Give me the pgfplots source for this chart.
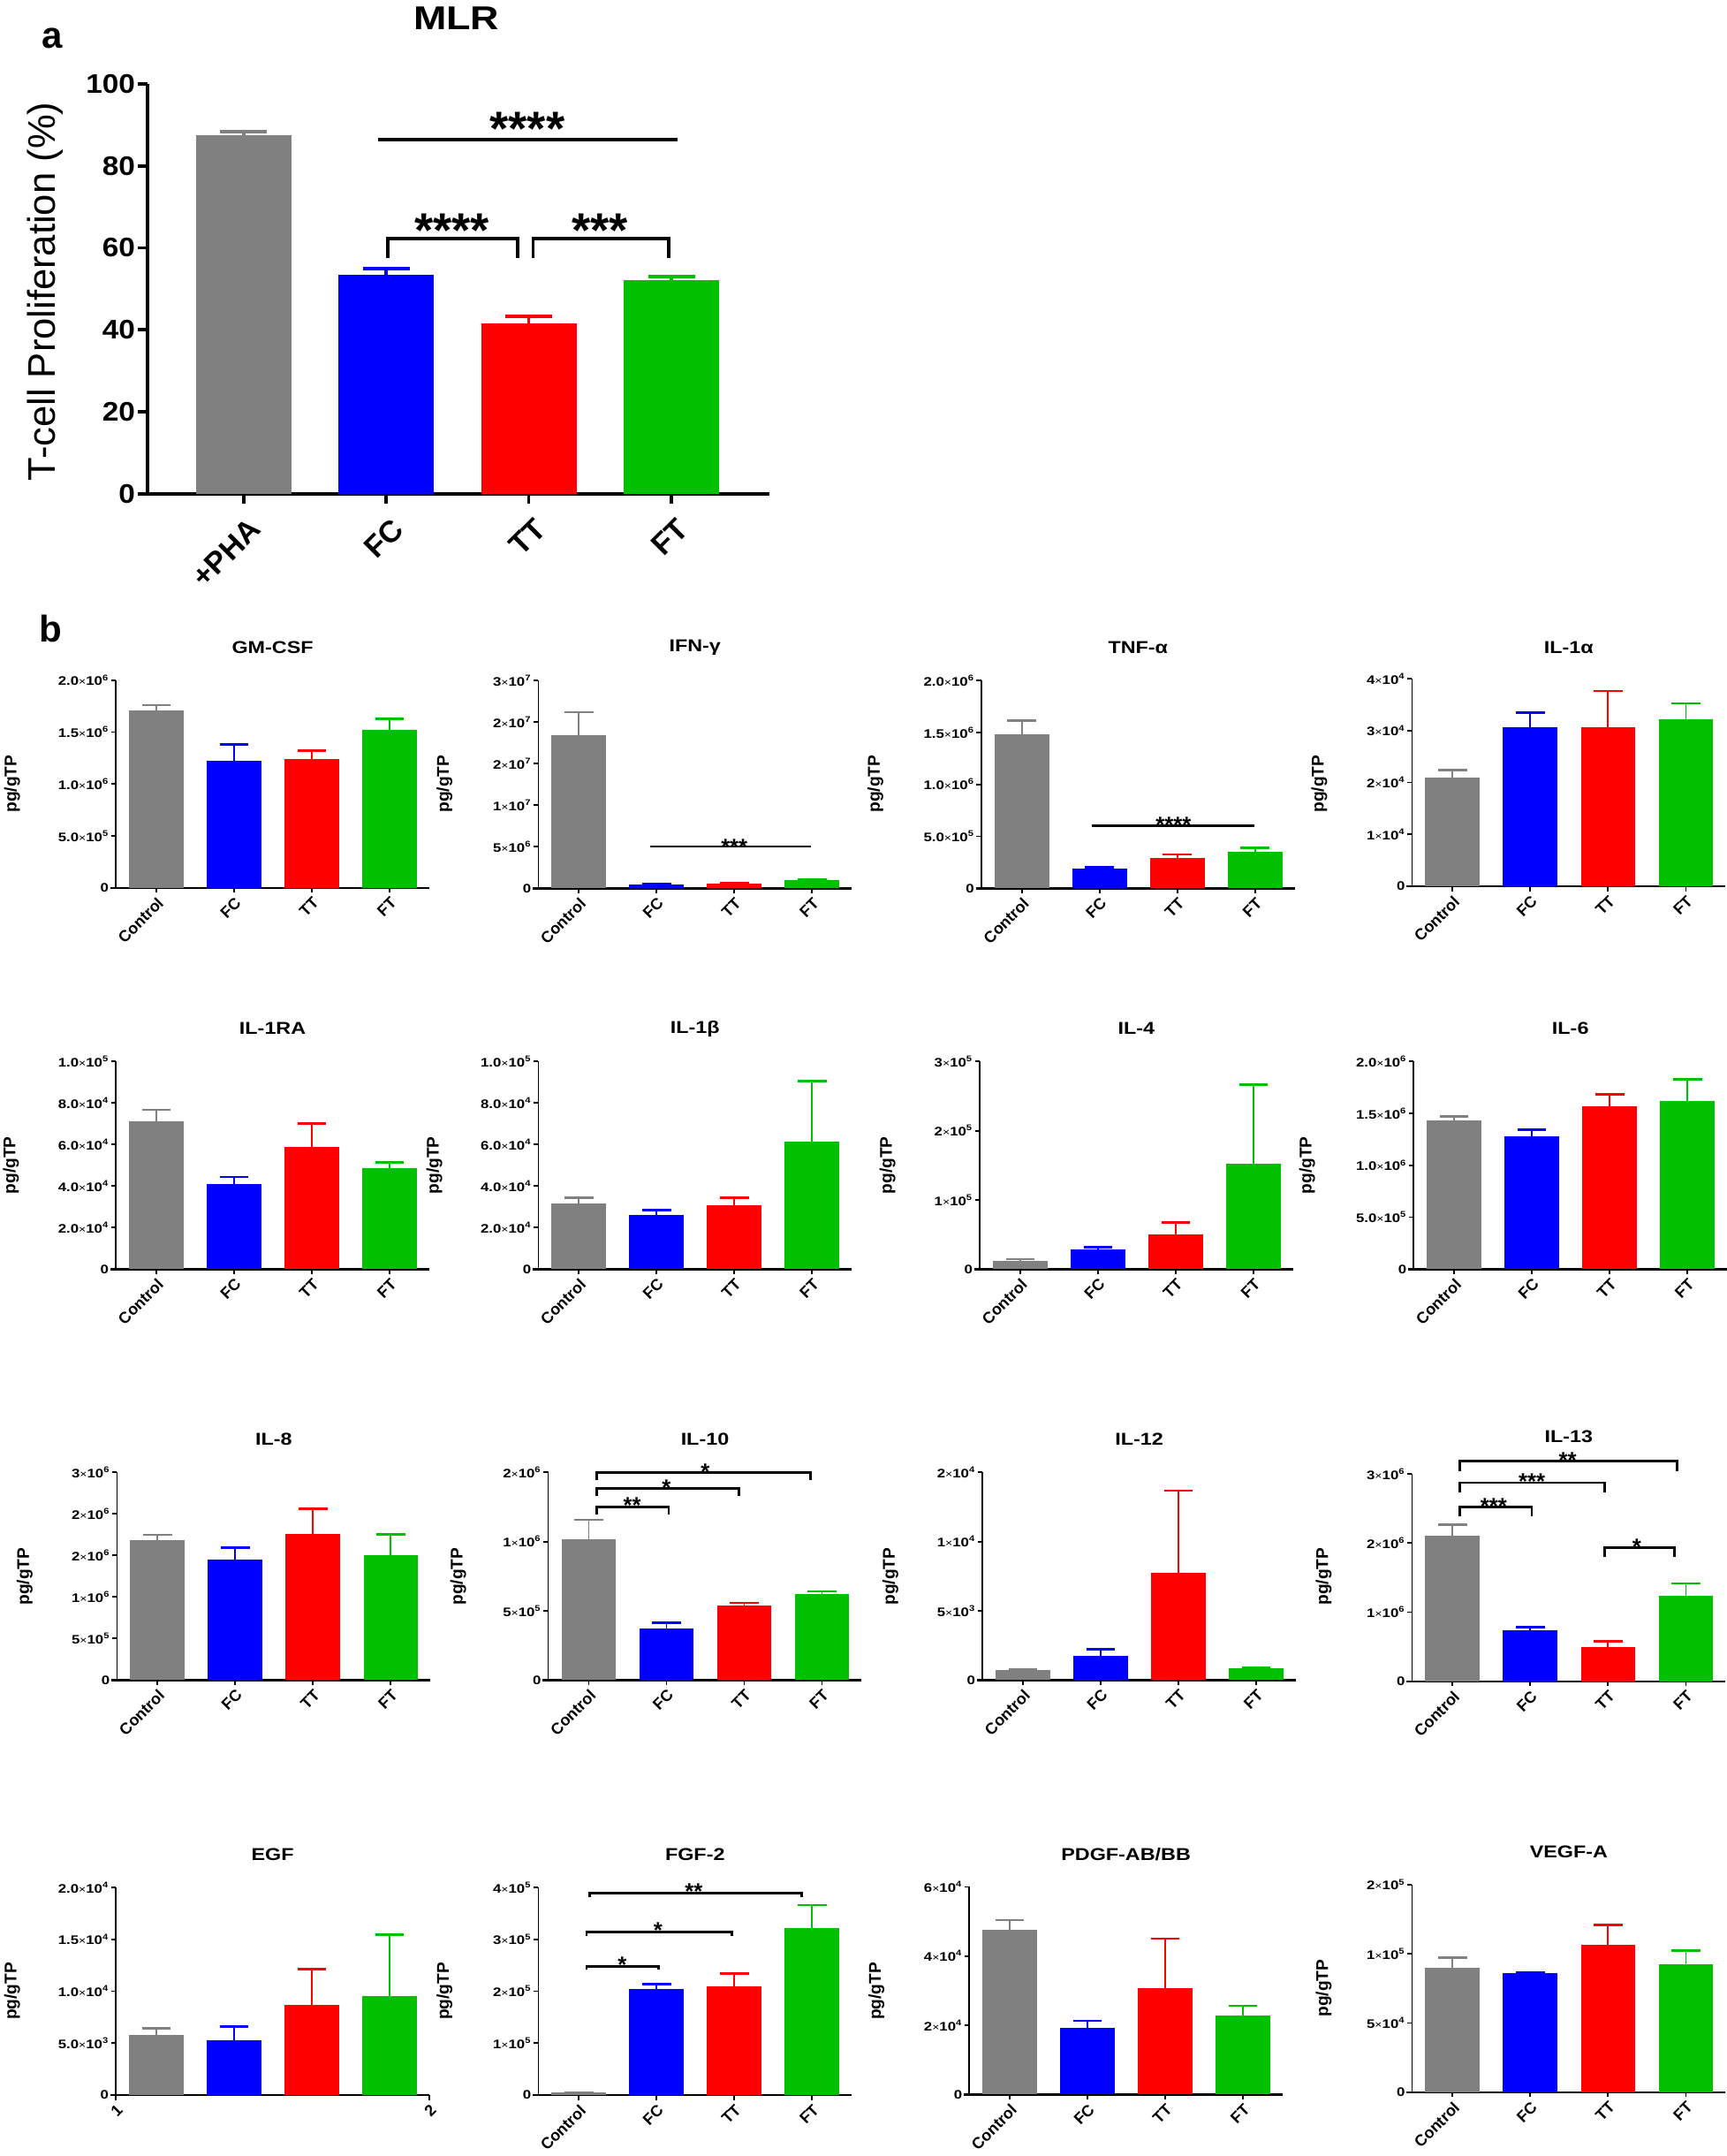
\documentclass[border=0pt]{standalone}
\usepackage{pgfplots}
\pgfplotsset{compat=1.18}
\usepackage{fontspec}
\setmainfont{Liberation Sans}
\newfontfamily\tkf{Liberation Sans}[FakeStretch=1.2]
\newfontfamily\ttlf{Liberation Sans}[FakeStretch=1.2]
\newfontfamily\atkf{Liberation Sans}[FakeStretch=1.1]
\definecolor{cg}{RGB}{128,128,128}
\definecolor{cb}{RGB}{0,0,255}
\definecolor{cr}{RGB}{255,0,0}
\definecolor{cn}{RGB}{0,192,0}
\newcommand{\sci}[2]{#1{\fontsize{7.5}{8}\selectfont\mdseries ×}10\textsuperscript{#2}}
\pgfplotsset{
 bbar/.style={ybar, bar width=0.7, bar shift=0pt, fill=#1, draw=none,
   error bars/y dir=plus, error bars/y explicit,
   error bars/error bar style={draw=#1, line width=1.1pt},
   error bars/error mark options={rotate=90, draw=#1, line width=1.7pt, mark size=10.5pt}},
 abar/.style={ybar, bar width=0.668, bar shift=0pt, fill=#1, draw=none,
   error bars/y dir=plus, error bars/y explicit,
   error bars/error bar style={draw=#1, line width=2.4pt},
   error bars/error mark options={rotate=90, draw=#1, line width=2.6pt, mark size=17pt}},
 pb/.style={anchor=south west, scale only axis, width=228pt, height=151pt,
   xmin=-0.52, xmax=3.51, ymin=0, clip=false,
   axis x line*=bottom, axis y line*=left,
   x axis line style={line width=1.6pt, shorten <=-4pt}, y axis line style={line width=1.1pt},
   xtick={0,1,2,3}, xticklabels={Control,FC,TT,FT},
   tick align=outside, major tick length=3.5pt, tick style={black, line width=1.1pt},
   yticklabel style={font=\tkf\bfseries\fontsize{9}{10}\selectfont, inner xsep=1.5pt},
   xticklabel style={font=\bfseries\fontsize{11.5}{13}\selectfont, yshift=-1pt, rotate=45, anchor=north east, inner sep=1pt},
   scaled ticks=false},
}
\newcommand{\fb}[8]{%
 \addplot[bbar=cg] coordinates {(0,#1) +- (0,#2)};
 \addplot[bbar=cb] coordinates {(1,#3) +- (0,#4)};
 \addplot[bbar=cr] coordinates {(2,#5) +- (0,#6)};
 \addplot[bbar=cn] coordinates {(3,#7) +- (0,#8)};}
\newcommand{\stars}[4]{\node[font=\bfseries\fontsize{16.5}{18}\selectfont, anchor=base, yshift=#3] at (axis cs:#1,#2) {#4};}
\newcommand{\brk}[7]{\draw[line width=1.8pt] (axis cs:#1,#4) -- (axis cs:#1,#3) -- (axis cs:#2,#3) -- (axis cs:#2,#4);
 \stars{#5}{#3}{#7}{#6}}
\newcommand{\ttl}[3]{\node[font=\ttlf\bfseries\fontsize{12.5}{14}\selectfont] at (#1pt,-#2pt) {#3};}
\newcommand{\pgl}[2]{\node[rotate=90, font=\bfseries\fontsize{12.3}{14}\selectfont] at (#1pt,-#2pt) {pg/gTP};}
\begin{document}
\begin{tikzpicture}
\path[use as bounding box] (0pt,0pt) rectangle (1256pt,-1568pt);
% ---------------- panel a
\begin{axis}[at={(107.5pt,-359pt)}, anchor=south west, scale only axis, width=452.3pt, height=298pt,
 xmin=-0.672, xmax=3.688, ymin=0, ymax=100, clip=false,
 axis x line*=bottom, axis y line*=left,
 x axis line style={line width=2.4pt, shorten <=-7pt}, y axis line style={line width=2.4pt},
 ytick={0,20,40,60,80,100}, yticklabels={0,20,40,60,80,100},
 xtick={0,1,2,3}, xticklabels={+PHA,FC,TT,FT},
 tick align=outside, major tick length=7pt, tick style={black, line width=2.4pt},
 yticklabel style={font=\atkf\bfseries\fontsize{19.5}{22}\selectfont, inner xsep=2pt},
 xticklabel style={font=\bfseries\fontsize{22}{26}\selectfont, xshift=3pt, yshift=-8pt, rotate=45, anchor=north east, inner sep=1pt}]
\addplot[abar=cg] coordinates {(0,87.4) +- (0,1.0)};
\addplot[abar=cb] coordinates {(1,53.5) +- (0,1.5)};
\addplot[abar=cr] coordinates {(2,41.6) +- (0,1.6)};
\addplot[abar=cn] coordinates {(3,52.2) +- (0,0.8)};
\draw[line width=2.4pt] (axis cs:0.945,86.4) -- (axis cs:3.04,86.4);
\node[font=\bfseries\fontsize{35}{40}\selectfont, anchor=base, yshift=-4pt] at (axis cs:1.99,86.4) {****};
\draw[line width=2.4pt] (axis cs:1.01,57.4) -- (axis cs:1.01,62.2) -- (axis cs:1.92,62.2) -- (axis cs:1.92,57.4);
\node[font=\bfseries\fontsize{35}{40}\selectfont, anchor=base, yshift=-6pt] at (axis cs:1.46,62.2) {****};
\draw[line width=2.4pt] (axis cs:2.03,57.4) -- (axis cs:2.03,62.2) -- (axis cs:2.98,62.2) -- (axis cs:2.98,57.4);
\node[font=\bfseries\fontsize{35}{40}\selectfont, anchor=base, yshift=-6pt] at (axis cs:2.5,62.2) {***};
\end{axis}
\node[font=\bfseries\fontsize{27}{30}\selectfont] at (38pt,-28pt) {a};
\node[font=\ttlf\bfseries\fontsize{24}{28}\selectfont] at (332pt,-13pt) {MLR};
\node[rotate=90, font=\fontsize{28}{32}\selectfont] at (33pt,-212pt) {T-cell Proliferation (\%)};
\node[font=\bfseries\fontsize{27}{30}\selectfont] at (37pt,-457pt) {b};
% ---------------- row 1
\begin{axis}[pb, at={(84.3pt,-645.7pt)}, ymax=2, ytick={0,0.5,1,1.5,2},
 yticklabels={0,\sci{5.0}{5},\sci{1.0}{6},\sci{1.5}{6},\sci{2.0}{6}}]
\fb{1.713}{0.046}{1.220}{0.161}{1.245}{0.077}{1.518}{0.108}
\end{axis}
\begin{axis}[pb, at={(391.6pt,-646pt)}, ymax=3, ytick={0,0.6,1.2,1.8,2.4,3},
 yticklabels={0,\sci{5}{6},\sci{1}{7},\sci{2}{7},\sci{2}{7},\sci{3}{7}}]
\fb{2.213}{0.332}{0.055}{0.004}{0.068}{0.004}{0.119}{0.004}
\draw[line width=1.8pt] (axis cs:0.92,0.604) -- (axis cs:2.99,0.604);
\stars{2}{0.604}{-6pt}{***}
\end{axis}
\begin{axis}[pb, at={(713.9pt,-646pt)}, ymax=2, ytick={0,0.5,1,1.5,2},
 yticklabels={0,\sci{5.0}{5},\sci{1.0}{6},\sci{1.5}{6},\sci{2.0}{6}}]
\fb{1.484}{0.130}{0.187}{0.014}{0.289}{0.037}{0.355}{0.034}
\draw[line width=1.8pt] (axis cs:0.9,0.601) -- (axis cs:2.99,0.601);
\stars{1.95}{0.601}{-5.2pt}{****}
\end{axis}
\begin{axis}[pb, at={(1027.2pt,-644.6pt)}, ymax=4, ytick={0,1,2,3,4},
 yticklabels={0,\sci{1}{4},\sci{2}{4},\sci{3}{4},\sci{4}{4}}]
\fb{2.088}{0.148}{3.061}{0.290}{3.067}{0.694}{3.22}{0.308}
\end{axis}
% ---------------- row 2
\begin{axis}[pb, at={(84.3pt,-923pt)}, ymax=10, ytick={0,2,4,6,8,10},
 yticklabels={0,\sci{2.0}{4},\sci{4.0}{4},\sci{6.0}{4},\sci{8.0}{4},\sci{1.0}{5}}]
\fb{7.135}{0.535}{4.085}{0.355}{5.87}{1.14}{4.85}{0.30}
\end{axis}
\begin{axis}[pb, at={(391.6pt,-923pt)}, ymax=10, ytick={0,2,4,6,8,10},
 yticklabels={0,\sci{2.0}{4},\sci{4.0}{4},\sci{6.0}{4},\sci{8.0}{4},\sci{1.0}{5}}]
\fb{3.16}{0.27}{2.61}{0.23}{3.09}{0.34}{6.16}{2.89}
\end{axis}
\begin{axis}[pb, at={(712.7pt,-923pt)}, ymax=3, ytick={0,1,2,3},
 yticklabels={0,\sci{1}{5},\sci{2}{5},\sci{3}{5}}]
\fb{0.115}{0.030}{0.282}{0.038}{0.508}{0.166}{1.523}{1.144}
\end{axis}
\begin{axis}[pb, at={(1028.4pt,-923pt)}, ymax=2, ytick={0,0.5,1,1.5,2},
 yticklabels={0,\sci{5.0}{5},\sci{1.0}{6},\sci{1.5}{6},\sci{2.0}{6}}]
\fb{1.431}{0.040}{1.280}{0.066}{1.568}{0.116}{1.622}{0.207}
\end{axis}
% ---------------- row 3
\begin{axis}[pb, at={(85.1pt,-1221.8pt)}, ymax=3, ytick={0,0.6,1.2,1.8,2.4,3},
 yticklabels={0,\sci{5}{5},\sci{1}{6},\sci{2}{6},\sci{2}{6},\sci{3}{6}}]
\fb{2.026}{0.072}{1.736}{0.175}{2.115}{0.362}{1.804}{0.302}
\end{axis}
\begin{axis}[pb, at={(398.8pt,-1221.8pt)}, ymax=2, ytick={0,0.6667,1.3333,2},
 yticklabels={0,\sci{5}{5},\sci{1}{6},\sci{2}{6}}]
\fb{1.352}{0.190}{0.498}{0.056}{0.721}{0.023}{0.829}{0.025}
\brk{0.1}{1.03}{1.669}{1.598}{0.56}{**}{-5pt}
\brk{0.1}{1.93}{1.847}{1.777}{1.0}{*}{-5pt}
\brk{0.1}{2.85}{2.0}{1.924}{1.5}{*}{-5pt}
\end{axis}
\begin{axis}[pb, at={(714.7pt,-1221.8pt)}, ymax=2, ytick={0,0.6667,1.3333,2},
 yticklabels={0,\sci{5}{3},\sci{1}{4},\sci{2}{4}}]
\fb{0.0936}{0.0085}{0.2326}{0.065}{1.0355}{0.789}{0.1135}{0.004}
\end{axis}
\begin{axis}[pb, at={(1027.2pt,-1222.8pt)}, ymax=3, ytick={0,1,2,3},
 yticklabels={0,\sci{1}{6},\sci{2}{6},\sci{3}{6}}]
\fb{2.108}{0.158}{0.734}{0.047}{0.491}{0.085}{1.238}{0.179}
\brk{0.09}{1.02}{2.518}{2.381}{0.53}{***}{-5.2pt}
\brk{0.09}{1.96}{2.872}{2.731}{1.02}{***}{-5.2pt}
\brk{0.09}{2.89}{3.179}{3.043}{1.48}{**}{-5.2pt}
\brk{1.96}{2.85}{1.929}{1.792}{2.37}{*}{-5.2pt}
\end{axis}
% ---------------- row 4
\begin{axis}[pb, at={(84.3pt,-1523.7pt)}, ymax=2, ytick={0,0.5,1,1.5,2},
 yticklabels={0,\sci{5.0}{3},\sci{1.0}{4},\sci{1.5}{4},\sci{2.0}{4}},
 xtick={-0.52,3.51}, xticklabels={1,2}]
\fb{0.5816}{0.062}{0.5248}{0.133}{0.8652}{0.349}{0.9504}{0.596}
\end{axis}
\begin{axis}[pb, at={(391.6pt,-1523.7pt)}, ymax=4, ytick={0,1,2,3,4},
 yticklabels={0,\sci{1}{5},\sci{2}{5},\sci{3}{5},\sci{4}{5}}]
\fb{0.051}{0.004}{2.048}{0.091}{2.099}{0.244}{3.217}{0.443}
\brk{0.1}{1.03}{2.485}{2.411}{0.56}{*}{-4.5pt}
\brk{0.1}{1.97}{3.138}{3.064}{1.02}{*}{-4.5pt}
\brk{0.14}{2.87}{3.887}{3.813}{1.48}{**}{-4.5pt}
\end{axis}
\begin{axis}[pb, at={(705.1pt,-1523.3pt)}, ymax=6, ytick={0,2,4,6},
 yticklabels={0,\sci{2}{4},\sci{4}{4},\sci{6}{4}}]
\fb{4.762}{0.282}{1.920}{0.214}{3.081}{1.425}{2.287}{0.282}
\end{axis}
\begin{axis}[pb, at={(1027.2pt,-1521.6pt)}, ymax=2, ytick={0,0.6667,1.3333,2},
 yticklabels={0,\sci{5}{4},\sci{1}{5},\sci{2}{5}}]
\fb{1.197}{0.102}{1.149}{0.002}{1.418}{0.193}{1.234}{0.133}
\end{axis}
% ---------------- titles
\ttl{198.3}{470.7}{GM-CSF}
\ttl{505.6}{470.7}{IFN-γ}
\ttl{827.9}{470.7}{TNF-α}
\ttl{1141.2}{470.7}{IL-1α}
\ttl{198.3}{748}{IL-1RA}
\ttl{505.6}{748}{IL-1β}
\ttl{826.7}{748}{IL-4}
\ttl{1142.4}{748}{IL-6}
\ttl{199.1}{1046.8}{IL-8}
\ttl{512.8}{1046.8}{IL-10}
\ttl{828.7}{1046.8}{IL-12}
\ttl{1141.2}{1044.5}{IL-13}
\ttl{198.3}{1348.7}{EGF}
\ttl{505.6}{1348.7}{FGF-2}
\ttl{819.1}{1348.7}{PDGF-AB/BB}
\ttl{1141.2}{1346.6}{VEGF-A}
% ---------------- y labels
\pgl{8.8}{570}\pgl{323.3}{570}\pgl{636.8}{570}\pgl{959.7}{570}
\pgl{8}{847.5}\pgl{316}{847.5}\pgl{645.7}{847.5}\pgl{950.9}{847.5}
\pgl{18}{1146.5}\pgl{333.3}{1146.5}\pgl{647.7}{1146.5}\pgl{963}{1146.5}
\pgl{8.8}{1448}\pgl{323.3}{1448}\pgl{637.6}{1448}\pgl{963}{1446}
\end{tikzpicture}
\end{document}
